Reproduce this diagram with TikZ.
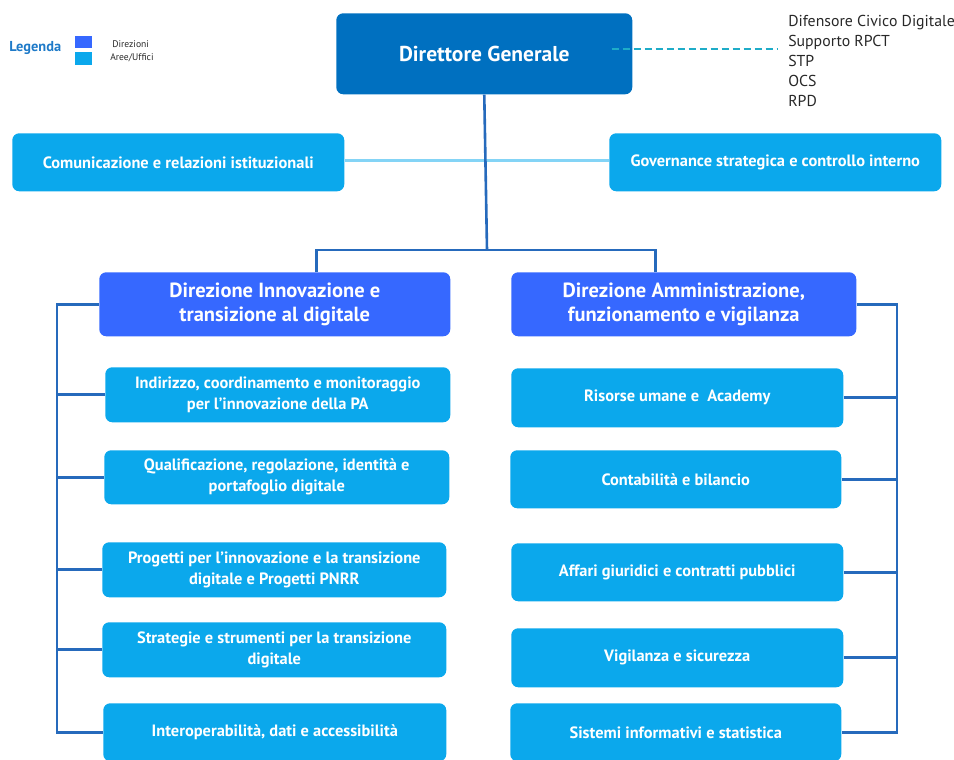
\documentclass[tikz,border=0pt]{standalone}
\usepackage{fontspec}
\setmainfont{PT Sans}
\usepackage{xcolor}
\usepackage{tikz}
\usetikzlibrary{positioning}
\definecolor{dgblue}{RGB}{0,112,192}
\definecolor{dirblue}{RGB}{54,104,255}
\definecolor{uffblue}{RGB}{11,168,236}
\definecolor{linkblue}{RGB}{38,106,188}
\definecolor{linklight}{RGB}{132,212,246}
\definecolor{dashteal}{RGB}{30,172,200}
\definecolor{legblue}{RGB}{30,122,200}
\definecolor{listgrey}{RGB}{40,40,40}
\tikzset{every picture/.style={line width=.55pt}}

\begin{document}
\begin{tikzpicture}[x=1pt,y=-1pt,
 orgbox/.style={rounded corners=7pt,text=white,align=center,inner sep=0pt,
  anchor=north west},
 dgbox/.style={orgbox,fill=dgblue,font=\bfseries\fontsize{21.5}{25}\selectfont},
 dirbox/.style={orgbox,fill=dirblue,font=\bfseries\fontsize{20.5}{24}\selectfont},
 uffbox/.style={orgbox,fill=uffblue,font=\bfseries\fontsize{16.4}{21}\selectfont},
 link/.style={draw=linkblue,line width=2.6pt},
 linklt/.style={draw=linklight,line width=3pt},
 dashlink/.style={draw=dashteal,line width=1.6pt,dash pattern=on 7pt off 4pt},
 legsq/.style={inner sep=0pt,anchor=north west,minimum width=17pt}]
 \useasboundingbox (0,0) rectangle (954,760);

 % legend
 \node[anchor=west,inner sep=0pt,text=legblue,
  font=\bfseries\fontsize{14.4}{16}\selectfont] (legtitle) at (9,48) {Legenda};
 \node[legsq,fill=dirblue,minimum height=12pt] (legdir) at (75,36) {};
 \node[legsq,fill=uffblue,minimum height=13pt] (leguff) at (75,52) {};
 \node[anchor=west,inner sep=0pt,text=listgrey,font=\fontsize{9.6}{10}\selectfont]
  (legdirtxt) at (112,44) {Direzioni};
 \node[anchor=west,inner sep=0pt,text=listgrey,font=\fontsize{9.6}{10}\selectfont]
  (legufftxt) at (110,58) {Aree/Uffici};

 % top level
 \node[dgbox,minimum width=296pt,minimum height=81pt] (dg) at (336,13)
  {Direttore Generale};
 \node[anchor=west,inner sep=0pt,align=left,text=listgrey,
  font=\fontsize{15.8}{20.2}\selectfont] (extra) at (788,61)
  {Difensore Civico Digitale\\Supporto RPCT\\STP\\OCS\\RPD};
 \node[uffbox,minimum width=332pt,minimum height=58pt] (com) at (12,133)
  {Comunicazione e relazioni istituzionali};
 \node[uffbox,minimum width=332pt,minimum height=58pt] (gov) at (609,133)
  {Governance strategica e controllo interno};

 % directions
 \node[dirbox,minimum width=351pt,minimum height=64pt] (dinn) at (99,272)
  {Direzione Innovazione e\\transizione al digitale};
 \node[dirbox,minimum width=345pt,minimum height=64pt] (dam) at (511,272)
  {Direzione Amministrazione,\\funzionamento e vigilanza};

 % offices of the first direction
 \node[uffbox,minimum width=345pt,minimum height=55pt] (ind) at (105,367)
  {Indirizzo, coordinamento e monitoraggio\\per l’innovazione della PA};
 \node[uffbox,minimum width=345pt,minimum height=54pt] (qual) at (104,450)
  {Qualificazione, regolazione, identità e\\portafoglio digitale};
 \node[uffbox,minimum width=344pt,minimum height=55pt] (prog) at (102,542)
  {Progetti per l’innovazione e la transizione\\digitale e Progetti PNRR};
 \node[uffbox,minimum width=344pt,minimum height=55pt] (strat) at (102,622)
  {Strategie e strumenti per la transizione\\digitale};
 \node[uffbox,minimum width=343pt,minimum height=58pt] (interop) at (103,703)
  {Interoperabilità, dati e accessibilità};

 % offices of the second direction
 \node[uffbox,minimum width=332pt,minimum height=59pt] (ris) at (511,368)
  {Risorse umane e\ \ Academy};
 \node[uffbox,minimum width=331pt,minimum height=58pt] (cont) at (510,450)
  {Contabilità e bilancio};
 \node[uffbox,minimum width=332pt,minimum height=58pt] (aff) at (511,543)
  {Affari giuridici e contratti pubblici};
 \node[uffbox,minimum width=332pt,minimum height=59pt] (vig) at (511,628)
  {Vigilanza e sicurezza};
 \node[uffbox,minimum width=331pt,minimum height=58pt] (sis) at (510,703)
  {Sistemi informativi e statistica};

 % connectors
 \coordinate (split) at (487,250);
 \coordinate (lbus) at (57,0);
 \coordinate (rbus) at (897,0);
 \draw[linklt] ([yshift=2pt]com.east) -- ([yshift=2pt]gov.west);
 \draw[link] (dg.south) -- (split);
 \draw[link] ([xshift=41.5pt]dinn.north) |- (split) -| ([xshift=-28.5pt]dam.north);
 \coordinate (dashstart) at ([xshift=-21pt,yshift=4.5pt]dg.east);
 \draw[dashlink] (dashstart) -- ([xshift=-11pt]dashstart -| extra.west);

 \draw[link] (dinn.west) -| (lbus |- interop.west) -- (interop.west);
 \foreach \off in {ind,qual,prog,strat}
  \draw[link] (\off.west) -- (\off.west -| lbus);
 \draw[link] (dam.east) -| (rbus |- sis.east) -- (sis.east);
 \foreach \off in {ris,cont,aff,vig}
  \draw[link] (\off.east) -- (\off.east -| rbus);
\end{tikzpicture}
\end{document}
